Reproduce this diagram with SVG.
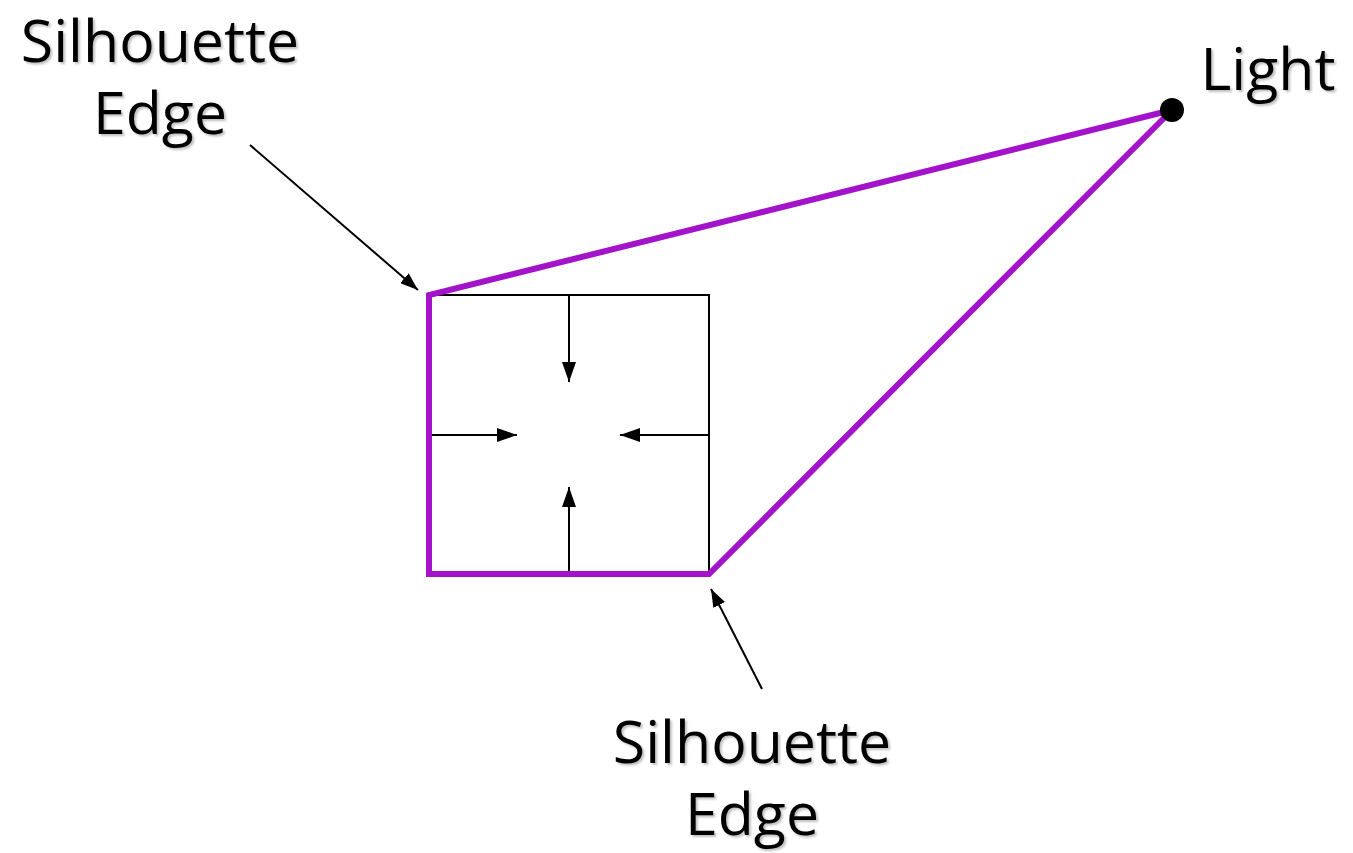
<svg xmlns="http://www.w3.org/2000/svg" width="1353" height="853" viewBox="0 0 1353 853">
<defs>
<marker id="ahb" viewBox="0 0 10 10" refX="10" refY="5" markerWidth="20" markerHeight="14" markerUnits="userSpaceOnUse" orient="auto" preserveAspectRatio="none"><path d="M0,0 L10,5 L0,10 z" fill="#000"/></marker>
<marker id="ahs" viewBox="0 0 10 10" refX="10" refY="5" markerWidth="18" markerHeight="13" markerUnits="userSpaceOnUse" orient="auto" preserveAspectRatio="none"><path d="M0,0 L10,5 L0,10 z" fill="#000"/></marker>
<filter id="sh" x="-10%" y="-10%" width="130%" height="130%"><feDropShadow dx="2" dy="2" stdDeviation="1" flood-color="#000" flood-opacity="0.25"/></filter>
</defs>
<style>
.lbl{font-family:"Open Sans","DejaVu Sans",sans-serif;font-size:59px;fill:#000;text-anchor:middle;filter:url(#sh)}
.thin{stroke:#000;stroke-width:2;fill:none}
.sil{stroke:#a313c9;stroke-width:6;fill:none;stroke-linejoin:miter}
</style>
<rect width="1353" height="853" fill="#fff"/>
<g id="square">
<rect x="429" y="295" width="280" height="279" class="thin"/>
</g>
<g id="connectors">
<line x1="569" y1="295" x2="569" y2="382" class="thin" marker-end="url(#ahb)"/>
<line x1="569" y1="574" x2="569" y2="487" class="thin" marker-end="url(#ahb)"/>
<line x1="429" y1="435" x2="517" y2="435" class="thin" marker-end="url(#ahb)"/>
<line x1="709" y1="435" x2="620" y2="435" class="thin" marker-end="url(#ahb)"/>
<line x1="250" y1="145" x2="418" y2="290" class="thin" marker-end="url(#ahs)"/>
<line x1="762" y1="689" x2="711" y2="589" class="thin" marker-end="url(#ahs)"/>
</g>
<g id="silhouette">
<polyline points="1172,110 429,295 429,574 709,574 1172,110" class="sil"/>
</g>
<g id="light">
<circle cx="1172" cy="110" r="12" fill="#000"/>
<text class="lbl" x="1268" y="90">Light</text>
</g>
<g id="label-top">
<text class="lbl" x="160" y="62">Silhouette</text>
<text class="lbl" x="160" y="134">Edge</text>
</g>
<g id="label-bottom">
<text class="lbl" x="752" y="763">Silhouette</text>
<text class="lbl" x="752" y="835">Edge</text>
</g>
</svg>
